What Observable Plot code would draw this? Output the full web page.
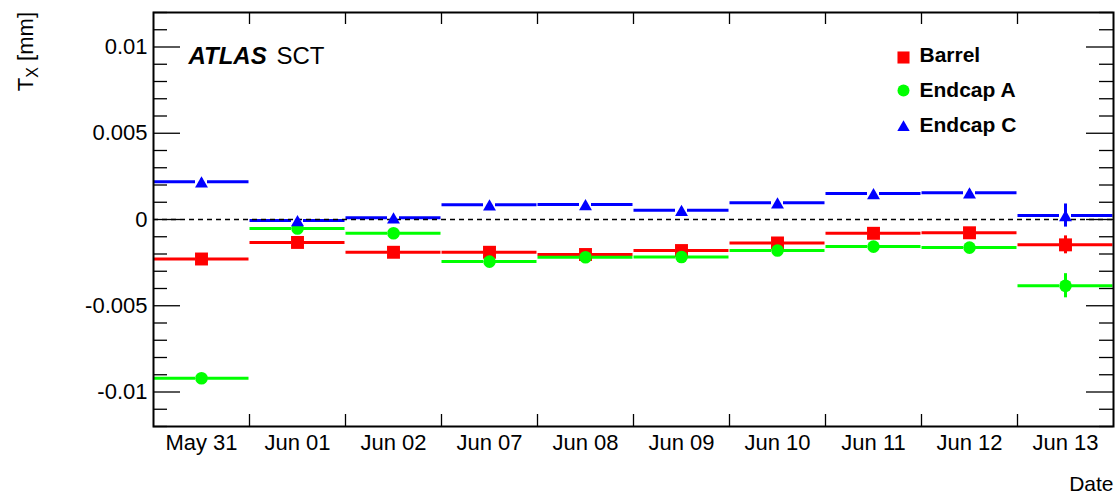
<!DOCTYPE html>
<html><head><meta charset="utf-8">
<script src="https://cdn.jsdelivr.net/npm/d3@7"></script>
<script src="https://cdn.jsdelivr.net/npm/@observablehq/plot@0.6"></script>
<style>body{margin:0;background:#fff}</style>
</head><body><div id="chart"></div>
<script>
const dates = ["May 31","Jun 01","Jun 02","Jun 07","Jun 08","Jun 09","Jun 10","Jun 11","Jun 12","Jun 13"];
const barrel    = [-0.00229,-0.00133,-0.00190,-0.00190,-0.00203,-0.00180,-0.00136,-0.00080,-0.00077,-0.00147];
const barrelErr = [0.00012,0.00010,0.00010,0.00010,0.00010,0.00010,0.00010,0.00010,0.00012,0.00052];
const endcapA    = [-0.00920,-0.00052,-0.00080,-0.00244,-0.00219,-0.00217,-0.00180,-0.00157,-0.00163,-0.00384];
const endcapAErr = [0.00015,0.00012,0.00012,0.00012,0.00012,0.00012,0.00012,0.00012,0.00015,0.00070];
const endcapC    = [0.00219,-0.00006,0.00010,0.00085,0.00087,0.00054,0.00097,0.00151,0.00155,0.00023];
const endcapCErr = [0.00015,0.00012,0.00012,0.00012,0.00012,0.00012,0.00012,0.00012,0.00015,0.00067];
const seriesNames = ["Barrel","Endcap A","Endcap C"];
const seriesColors = ["#ff0000","#00ff00","#0000ff"];
const yMajor = [-0.01,-0.005,0,0.005,0.01];

const seriesVals = [barrel, endcapA, endcapC];
const seriesErrs = [barrelErr, endcapAErr, endcapCErr];
const rows = seriesNames.map((s, k) => seriesVals[k].map((v, i) => ({series: s, color: seriesColors[k], i, v, e: seriesErrs[k][i]})));
const yMinor = d3.range(-12, 13).map(d => d / 1000).filter(d => !yMajor.some(m => Math.abs(m - d) < 1e-9));
const edges = d3.range(1, dates.length);
const centers = dates.map((_, i) => i + 0.5);

const font = "'Liberation Sans', Arial, Helvetica, sans-serif";
const W = 1116, H = 497, mL = 153, mR = 3, mT = 12, mB = 71;
const fw = W - mL - mR, fh = H - mT - mB;

function seriesMarks(data) {
  const c = data[0].color;
  return [
    Plot.ruleY(data, {x1: d => d.i, x2: d => d.i + 0.5, y: "v", stroke: c, strokeWidth: 3, insetLeft: 0.5, insetRight: 6}),
    Plot.ruleY(data, {x1: d => d.i + 0.5, x2: d => d.i + 1, y: "v", stroke: c, strokeWidth: 3, insetLeft: 6, insetRight: 0.5}),
    Plot.ruleX(data, {x: d => d.i + 0.5, y1: d => d.v - d.e, y2: d => d.v + d.e, stroke: c, strokeWidth: 3}),
  ];
}
function markerMarks(data, symbol, r, dy) {
  const c = data[0].color;
  return Plot.dot(data, {x: d => d.i + 0.5, y: "v", symbol, r, fill: c, stroke: "none", dy});
}

const legendDY = [43, 78, 113];
const legendSym = ["square","circle","triangle"];
const legendR = [6.8, 6, 4.6];
const legendDot = [2, 0, 2];

const plot = Plot.plot({
  width: W, height: H,
  marginLeft: mL, marginRight: mR, marginTop: mT, marginBottom: mB,
  style: {fontFamily: font, fontSize: "22px", background: "#fff", color: "#000", overflow: "visible"},
  x: {type: "linear", domain: [0, dates.length]},
  y: {domain: [-0.012, 0.012]},
  marks: [
    ...seriesMarks(rows[0]),
    ...seriesMarks(rows[1]),
    ...seriesMarks(rows[2]),
    Plot.ruleY([0], {stroke: "#000", strokeWidth: 1.3, strokeDasharray: "5,4"}),
    markerMarks(rows[0], "square", 7.3, 0),
    markerMarks(rows[1], "circle", 6.3, 0),
    markerMarks(rows[2], "triangle", 4.8, 2),
    // ticks
    Plot.tickY(yMinor, {y: d => d, insetRight: fw - 14, stroke: "#000", strokeWidth: 1.3}),
    Plot.tickY(yMajor, {y: d => d, insetRight: fw - 27, stroke: "#000", strokeWidth: 1.3}),
    Plot.tickY(yMinor, {y: d => d, insetLeft: fw - 14, stroke: "#000", strokeWidth: 1.3}),
    Plot.tickY(yMajor, {y: d => d, insetLeft: fw - 27, stroke: "#000", strokeWidth: 1.3}),
    Plot.tickX(edges, {x: d => d, insetTop: fh - 12, stroke: "#000", strokeWidth: 1.3}),
    Plot.tickX(edges, {x: d => d, insetBottom: fh - 12, stroke: "#000", strokeWidth: 1.3}),
    Plot.axisY(yMajor, {tickSize: 0, tickPadding: 6, fontSize: 22, tickFormat: d => d === 0 ? "0" : String(d), label: null}),
    Plot.axisX(centers, {tickSize: 0, tickPadding: 8, fontSize: 22, tickFormat: d => dates[Math.floor(d)], label: null}),
    Plot.frame({stroke: "#000", strokeWidth: 2}),
    // ATLAS label
    Plot.text(["ATLAS"], {frameAnchor: "top-left", dx: 35, dy: 34, lineAnchor: "top", textAnchor: "start", fontSize: 24, fontWeight: "bold", fontStyle: "italic", fill: "#000"}),
    Plot.text(["SCT"], {frameAnchor: "top-left", dx: 123, dy: 34, lineAnchor: "top", textAnchor: "start", fontSize: 24, fill: "#000"}),
    // legend
    ...seriesNames.flatMap((s, k) => [
      Plot.dot([s], {frameAnchor: "top-right", dx: -210, dy: legendDY[k] + legendDot[k], symbol: legendSym[k], r: legendR[k], fill: seriesColors[k], stroke: "none"}),
      Plot.text([s], {frameAnchor: "top-right", dx: -194, dy: legendDY[k], textAnchor: "start", lineAnchor: "middle", fontSize: 21, fontWeight: "bold", fill: "#000"})
    ]),
    Plot.text(["Date"], {frameAnchor: "bottom-right", dy: 50, textAnchor: "end", lineAnchor: "top", fontSize: 21, fill: "#000"})
  ]
});

// y-axis label with subscript
const svg = d3.select(plot);
const lab = svg.append("text")
  .attr("transform", `translate(33,${mT}) rotate(-90)`)
  .attr("text-anchor", "end")
  .attr("font-family", font)
  .attr("font-size", 22)
  .attr("fill", "#000");
lab.append("tspan").text("T");
lab.append("tspan").attr("font-size", 16).attr("dy", 5).text("X");
lab.append("tspan").attr("dy", -5).text(" [mm]");

document.getElementById("chart").appendChild(plot);
</script>
</body></html>
